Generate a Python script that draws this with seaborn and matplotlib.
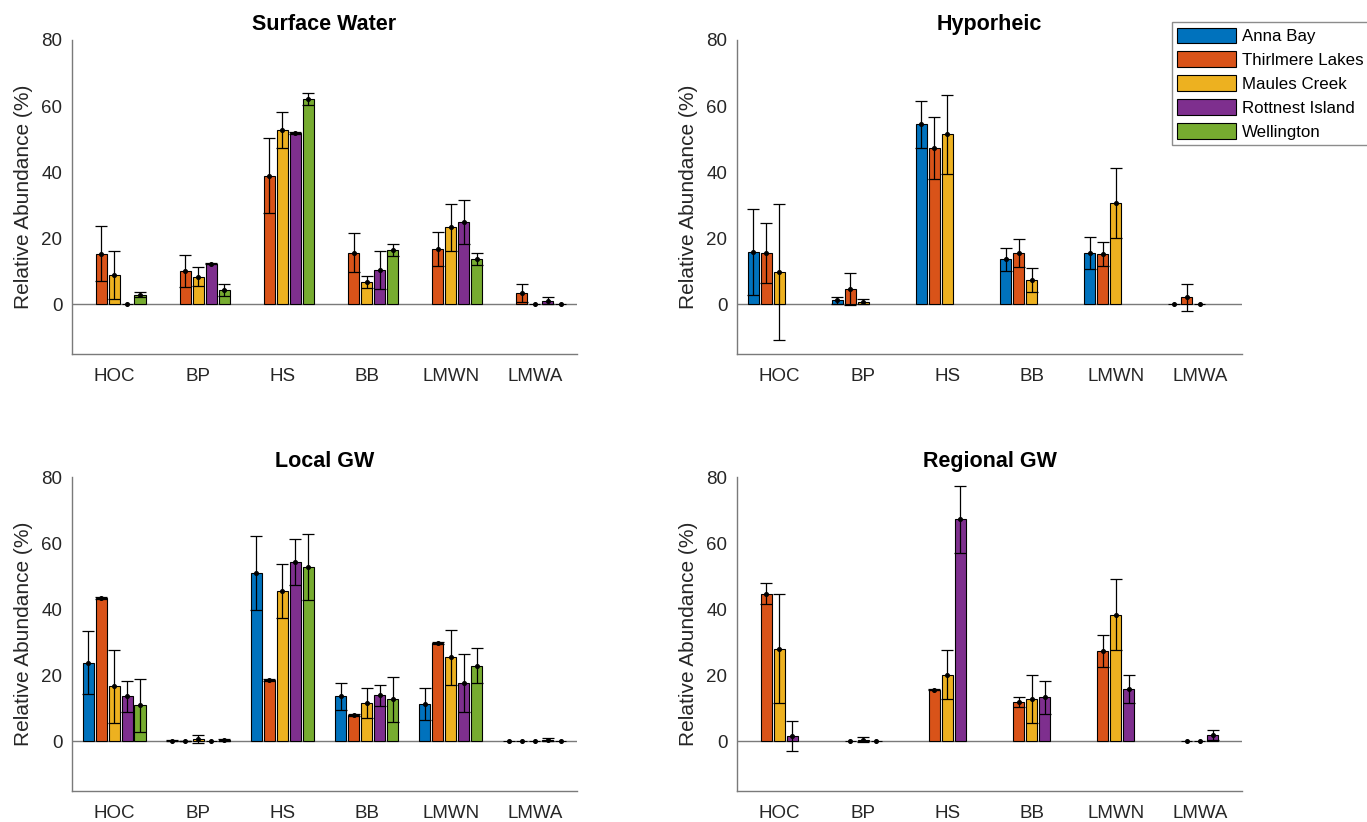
import numpy as np
import pandas as pd
import matplotlib
matplotlib.use("Agg")
import matplotlib.pyplot as plt
from matplotlib.patches import Patch
import seaborn as sns

nan = np.nan
categories = ["HOC", "BP", "HS", "BB", "LMWN", "LMWA"]
sites = ["Anna Bay", "Thirlmere Lakes", "Maules Creek", "Rottnest Island", "Wellington"]
site_colors = ["#0072BD", "#D95319", "#EDB120", "#7E2F8E", "#77AC30"]
panel_titles = ["Surface Water", "Hyporheic", "Local GW", "Regional GW"]

# Surface Water
sw_anna = [nan, nan, nan, nan, nan, nan]
sw_anna_err = [nan, nan, nan, nan, nan, nan]
sw_thir = [15.4, 10.1, 39.0, 15.7, 16.7, 3.5]
sw_thir_err = [8.4, 4.8, 11.2, 6.0, 5.2, 2.7]
sw_maul = [8.9, 8.4, 52.7, 6.8, 23.3, 0.0]
sw_maul_err = [7.3, 2.9, 5.5, 1.8, 7.2, 0.0]
sw_rott = [0.0, 12.3, 51.8, 10.5, 24.9, 1.1]
sw_rott_err = [0.0, 0.2, 0.3, 5.7, 6.7, 1.1]
sw_well = [3.0, 4.4, 62.2, 16.6, 13.8, 0.0]
sw_well_err = [0.8, 1.8, 1.9, 1.8, 1.9, 0.0]

# Hyporheic
hy_anna = [15.9, 1.2, 54.5, 13.6, 15.5, 0.0]
hy_anna_err = [13.0, 1.1, 7.1, 3.5, 4.8, 0.0]
hy_thir = [15.5, 4.7, 47.4, 15.5, 15.2, 2.1]
hy_thir_err = [9.0, 4.8, 9.4, 4.3, 3.6, 4.2]
hy_maul = [9.8, 0.8, 51.5, 7.4, 30.6, 0.0]
hy_maul_err = [20.5, 0.7, 12.0, 3.7, 10.6, 0.0]
hy_rott = [nan, nan, nan, nan, nan, nan]
hy_rott_err = [nan, nan, nan, nan, nan, nan]
hy_well = [nan, nan, nan, nan, nan, nan]
hy_well_err = [nan, nan, nan, nan, nan, nan]

# Local GW
lg_anna = [23.8, 0.2, 51.0, 13.6, 11.3, 0.0]
lg_anna_err = [9.6, 0.2, 11.2, 4.1, 4.8, 0.0]
lg_thir = [43.5, 0.1, 18.5, 7.9, 29.8, 0.0]
lg_thir_err = [0.3, 0.1, 0.3, 0.3, 0.3, 0.0]
lg_maul = [16.7, 0.8, 45.4, 11.6, 25.4, 0.0]
lg_maul_err = [11.1, 1.2, 8.2, 4.5, 8.2, 0.0]
lg_rott = [13.6, 0.0, 54.2, 14.0, 17.6, 0.5]
lg_rott_err = [4.8, 0.0, 7.0, 3.2, 8.8, 0.4]
lg_well = [10.9, 0.4, 52.8, 12.8, 22.9, 0.0]
lg_well_err = [8.0, 0.2, 10.0, 6.8, 5.3, 0.0]

# Regional GW
rg_anna = [nan, nan, nan, nan, nan, nan]
rg_anna_err = [nan, nan, nan, nan, nan, nan]
rg_thir = [44.7, 0.0, 15.7, 11.9, 27.4, 0.0]
rg_thir_err = [3.2, 0.0, 0.2, 1.4, 4.8, 0.0]
rg_maul = [28.1, 0.5, 20.2, 12.8, 38.3, 0.0]
rg_maul_err = [16.5, 0.7, 7.5, 7.3, 10.7, 0.0]
rg_rott = [1.6, 0.0, 67.2, 13.3, 15.8, 1.9]
rg_rott_err = [4.5, 0.0, 10.1, 5.1, 4.2, 1.6]
rg_well = [nan, nan, nan, nan, nan, nan]
rg_well_err = [nan, nan, nan, nan, nan, nan]

panels = [
    ([sw_anna, sw_thir, sw_maul, sw_rott, sw_well],
     [sw_anna_err, sw_thir_err, sw_maul_err, sw_rott_err, sw_well_err]),
    ([hy_anna, hy_thir, hy_maul, hy_rott, hy_well],
     [hy_anna_err, hy_thir_err, hy_maul_err, hy_rott_err, hy_well_err]),
    ([lg_anna, lg_thir, lg_maul, lg_rott, lg_well],
     [lg_anna_err, lg_thir_err, lg_maul_err, lg_rott_err, lg_well_err]),
    ([rg_anna, rg_thir, rg_maul, rg_rott, rg_well],
     [rg_anna_err, rg_thir_err, rg_maul_err, rg_rott_err, rg_well_err]),
]

sns.set_style("white")
plt.rcParams["font.family"] = ["Liberation Sans", "DejaVu Sans"]

AX_COL = "#7a7a7a"
TXT_COL = "#262626"
W, H = 1367, 822
fig = plt.figure(figsize=(W / 100, H / 100), dpi=100)

# axes rectangles in pixels: left, top, right, bottom
rects = [(72, 40, 577, 354), (737, 40, 1242, 354),
         (72, 477, 577, 791), (737, 477, 1242, 791)]

palette = dict(zip(sites, site_colors))
group_width = 0.77
n = len(sites)

for (vals, errs), title, (l, t, r, b) in zip(panels, panel_titles, rects):
    ax = fig.add_axes([l / W, 1 - b / H, (r - l) / W, (b - t) / H])
    rows = []
    for s, v, e in zip(sites, vals, errs):
        for c, vv, ee in zip(categories, v, e):
            rows.append({"Category": c, "Site": s, "Value": vv, "Err": ee})
    df = pd.DataFrame(rows)
    ax.axhline(0, color=AX_COL, lw=1.0, zorder=1)
    sns.barplot(data=df, x="Category", y="Value", hue="Site",
                order=categories, hue_order=sites, palette=palette,
                saturation=1, width=group_width, gap=0.15,
                edgecolor="black", linewidth=0.8, errorbar=None,
                legend=False, ax=ax, zorder=2)
    # error bars at dodged positions
    cat_idx = {c: i for i, c in enumerate(categories)}
    site_idx = {s: j for j, s in enumerate(sites)}
    df["x"] = [cat_idx[c] + (site_idx[s] - (n - 1) / 2) * group_width / n
               for c, s in zip(df["Category"], df["Site"])]
    d = df.dropna(subset=["Value"])
    de = d[d["Err"] > 0]
    ax.errorbar(de["x"], de["Value"], yerr=de["Err"], fmt="none",
                ecolor="black", elinewidth=0.9, capsize=4.2,
                capthick=0.9, zorder=4)
    ax.plot(d["x"], d["Value"], ls="none", marker="o", ms=2.6,
            color="black", zorder=5)

    ax.set_xlim(-0.5, 5.5)
    ax.set_ylim(-15, 80)
    ax.set_yticks([0, 20, 40, 60, 80])
    ax.set_xlabel("")
    ax.set_ylabel("Relative Abundance (%)", fontsize=15, color=TXT_COL,
                  labelpad=6)
    ax.set_title(title, fontsize=15.5, fontweight="bold", color="black",
                 pad=7)
    for side in ["top", "right"]:
        ax.spines[side].set_visible(False)
    for side in ["left", "bottom"]:
        ax.spines[side].set_color(AX_COL)
        ax.spines[side].set_linewidth(1.0)
    ax.tick_params(axis="both", direction="in", length=3.5, width=0.8,
                   color=AX_COL, labelcolor=TXT_COL, labelsize=13.5)
    ax.tick_params(axis="x", pad=10)
    ax.tick_params(axis="y", pad=7)
    ax.set_facecolor("white")

handles = [Patch(facecolor=c, edgecolor="black", linewidth=0.8)
           for c in site_colors]
leg = fig.legend(handles, sites, loc="upper left",
                 bbox_to_anchor=(1172 / W, 1 - 22.5 / H),
                 fontsize=12.2, frameon=True, fancybox=False,
                 framealpha=1, edgecolor="#8c8c8c",
                 handlelength=3.5, handleheight=1.06,
                 labelspacing=0.42, handletextpad=0.33,
                 borderpad=0.3, borderaxespad=0)
leg.get_frame().set_linewidth(1.0)
for txt in leg.get_texts():
    txt.set_color("black")

fig.savefig("out.png", dpi=100, facecolor="white")
